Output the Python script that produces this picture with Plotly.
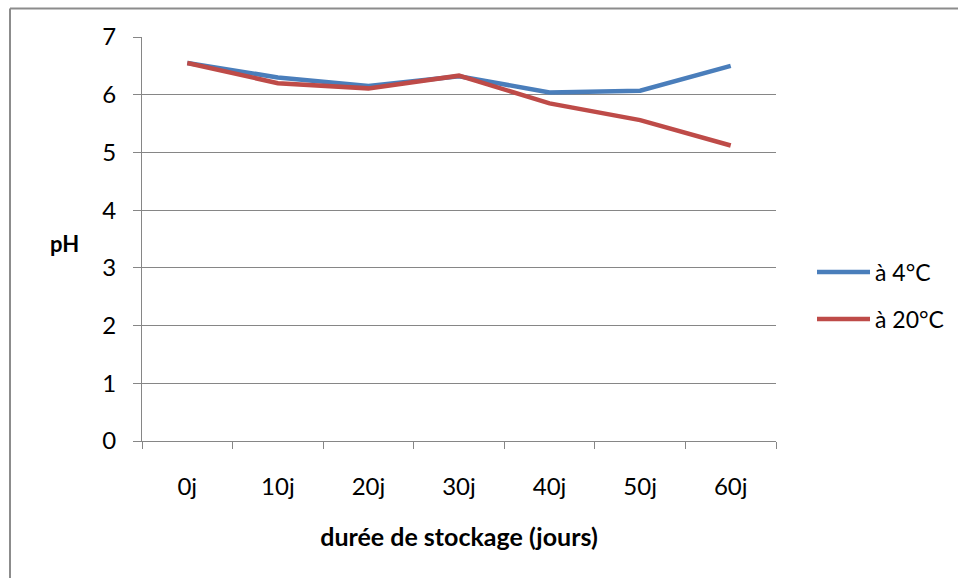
import plotly.graph_objects as go

categories = ["0j", "10j", "20j", "30j", "40j", "50j", "60j"]
ph_4c = [6.55, 6.30, 6.15, 6.32, 6.04, 6.07, 6.50]
ph_20c = [6.55, 6.20, 6.11, 6.33, 5.85, 5.56, 5.12]
series_names = ["à 4°C", "à 20°C"]
colors = ["#4A7EBB", "#BE4B48"]
y_ticks = [0, 1, 2, 3, 4, 5, 6, 7]

W, H = 958, 578
L, T = 142, 37
R, B = W - 776, H - 441
PW, PH = W - L - R, H - T - B

def px(x):
    return (x - L) / PW

def py(y):
    return (H - B - y) / PH

FONT = "Lato"
fig = go.Figure()
for name, vals, col in zip(series_names, [ph_4c, ph_20c], colors):
    fig.add_trace(go.Scatter(x=categories, y=vals, mode="lines", name=name,
                             line=dict(color=col, width=4.5), showlegend=False))

fig.update_layout(
    width=W, height=H,
    margin=dict(l=L, r=R, t=T, b=B),
    paper_bgcolor="white", plot_bgcolor="white",
    font=dict(family=FONT, size=24, color="black"),
    xaxis=dict(type="category", range=[-0.5, 6.5], showgrid=False,
               showline=True, linecolor="#868686", linewidth=1,
               ticks="outside", ticklen=7, tickcolor="#868686", tickson="boundaries",
               ticklabelstandoff=24,
               title=dict(text="<b>durée de stockage (jours)</b>", standoff=29,
                          font=dict(size=25))),
    yaxis=dict(range=[0, 7], tickvals=y_ticks, showgrid=True, gridcolor="#868686",
               gridwidth=1, showline=True, linecolor="#868686", linewidth=1,
               ticks="outside", ticklen=8, tickcolor="#868686",
               ticklabelstandoff=12, zeroline=False),
)

fig.add_annotation(x=px(64), y=py(243), xref="paper", yref="paper",
                   xanchor="center", yanchor="middle",
                   text="<b>pH</b>", showarrow=False, font=dict(size=22))

# custom legend
for i, (name, col) in enumerate(zip(series_names, colors)):
    yy = 272 + i * 47
    fig.add_shape(type="line", xref="paper", yref="paper",
                  x0=px(817), x1=px(870), y0=py(yy), y1=py(yy),
                  line=dict(color=col, width=4.5))
    fig.add_annotation(x=px(873), y=py(yy), xref="paper", yref="paper",
                       text=name, showarrow=False, xanchor="left", yanchor="middle",
                       font=dict(size=23))

# chart frame (top and left edges only are visible)
fig.add_shape(type="line", xref="paper", yref="paper",
              x0=px(10), x1=px(958), y0=py(8.5), y1=py(8.5),
              line=dict(color="#8C8C8C", width=2), layer="below")
fig.add_shape(type="line", xref="paper", yref="paper",
              x0=px(10), x1=px(10), y0=py(8.5), y1=py(578),
              line=dict(color="#8C8C8C", width=2), layer="below")

post = ("document.documentElement.style.overflow='hidden';"
        "document.body.style.overflow='hidden';"
        "document.body.style.margin='0';")
fig.write_html("out.html", post_script=post, config={"displayModeBar": False})
